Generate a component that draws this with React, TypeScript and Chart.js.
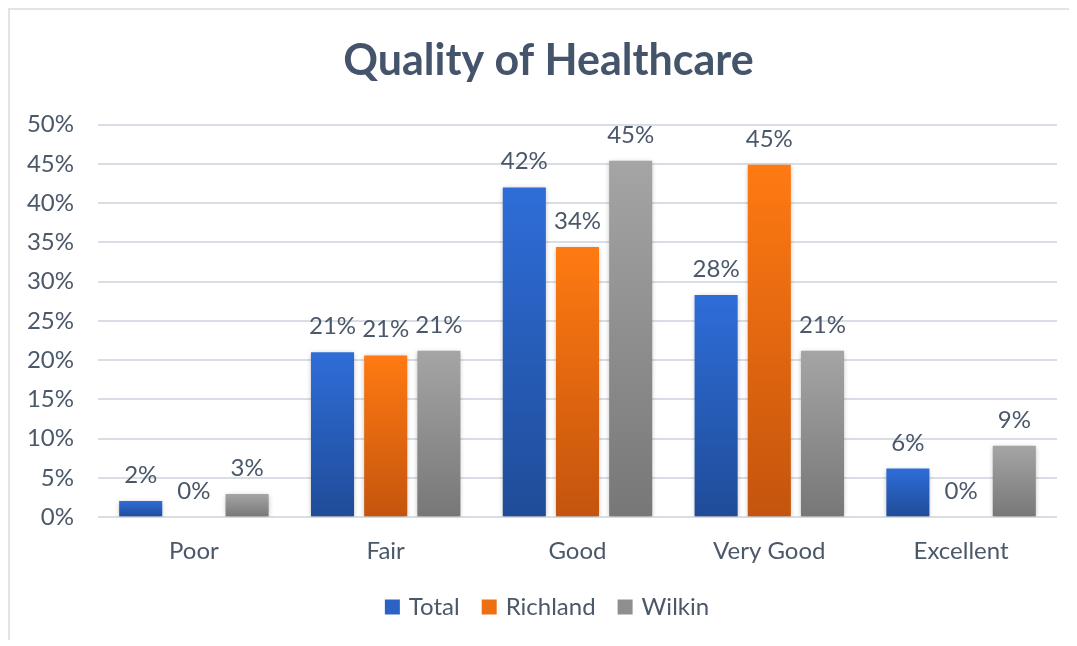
import React, { useEffect, useRef } from "react";
import { Chart, registerables } from "chart.js";

Chart.register(...registerables);

const categories = ["Poor", "Fair", "Good", "Very Good", "Excellent"];
const totalValues = [2.05, 21.0, 42.0, 28.3, 6.2];
const richlandValues = [0, 20.6, 34.4, 44.9, 0];
const wilkinValues = [2.95, 21.2, 45.4, 21.2, 9.1];
const seriesNames = ["Total", "Richland", "Wilkin"];
const yTicksMax = 50;
const yTickStep = 5;

const TEXT = "#4B586A";
const TITLE = "#44546A";
const FONT = "Lato, 'Open Sans', sans-serif";

const palettes = [
  { solid: "#2A62C6", top: "#2E6DD8", bottom: "#1F4C98" },
  { solid: "#EE6F10", top: "#FF7A12", bottom: "#C4540D" },
  { solid: "#8F8F8F", top: "#A5A5A5", bottom: "#777777" },
];

function gradientFor(idx: number) {
  return (ctx: any) => {
    const p = palettes[idx];
    const chart = ctx.chart;
    const area = chart.chartArea;
    if (!area || ctx.type !== "data" || !chart.scales.y) return p.solid;
    const y = chart.scales.y.getPixelForValue(ctx.raw);
    if (!(area.bottom - y > 0.5)) return p.solid;
    const g = chart.ctx.createLinearGradient(0, y, 0, area.bottom);
    g.addColorStop(0, p.top);
    g.addColorStop(1, p.bottom);
    return g;
  };
}

// Centre title and legend on the same line as in the reference
const shiftBlocks = {
  id: "shiftBlocks",
  afterLayout(chart: any) {
    const dx = 15;
    [chart.titleBlock, chart.legend].forEach((b: any) => {
      if (b) {
        b.left += dx;
        b.right += dx;
      }
    });
  },
};

const barShadowAndLabels = {
  id: "barShadowAndLabels",
  beforeDatasetsDraw(chart: any) {
    const c = chart.ctx;
    c.save();
    c.shadowColor = "rgba(0,0,0,0.28)";
    c.shadowBlur = 5;
    c.shadowOffsetX = 0;
    c.shadowOffsetY = 1;
  },
  afterDatasetsDraw(chart: any) {
    const c = chart.ctx;
    c.restore();
    c.save();
    c.font = `24px ${FONT}`;
    c.fillStyle = TEXT;
    c.textAlign = "center";
    c.textBaseline = "alphabetic";
    chart.data.datasets.forEach((ds: any, i: number) => {
      const meta = chart.getDatasetMeta(i);
      meta.data.forEach((el: any, j: number) => {
        const v = ds.data[j];
        c.fillText(`${Math.round(v)}%`, el.x, el.y - 18);
      });
    });
    c.restore();
  },
};

export default function App() {
  const canvasRef = useRef<HTMLCanvasElement | null>(null);

  useEffect(() => {
    const canvas = canvasRef.current;
    if (!canvas) return;
    const seriesValues = [totalValues, richlandValues, wilkinValues];
    const chart = new Chart(canvas, {
      type: "bar",
      data: {
        labels: categories,
        datasets: seriesNames.map((name, i) => ({
          label: name,
          data: seriesValues[i],
          backgroundColor: gradientFor(i),
          borderWidth: 0,
          barPercentage: 0.81,
          categoryPercentage: 0.832,
        })),
      },
      options: {
        animation: false,
        responsive: false,
        maintainAspectRatio: false,
        layout: { padding: { left: 0, right: 20, top: 0, bottom: 11 } },
        plugins: {
          title: {
            display: true,
            text: "Quality of Healthcare",
            color: TITLE,
            font: { family: FONT, size: 43, weight: "bold" },
            padding: { top: 25, bottom: 38 },
          },
          legend: {
            display: true,
            position: "bottom",
            labels: {
              color: TEXT,
              font: { family: FONT, size: 24 },
              usePointStyle: true,
              pointStyle: "rect",
              boxWidth: 9,
              boxHeight: 15,
              padding: 25,
              generateLabels: () =>
                seriesNames.map((name, i) => ({
                  text: name,
                  fillStyle: palettes[i].solid,
                  strokeStyle: palettes[i].solid,
                  lineWidth: 0,
                  pointStyle: "rect",
                  fontColor: TEXT,
                  hidden: false,
                  datasetIndex: i,
                })),
            },
          },
          tooltip: { enabled: false },
        },
        scales: {
          x: {
            grid: { display: false, drawTicks: false },
            border: { display: false },
            afterFit: (scale: any) => {
              scale.height = scale.height - 16;
            },
            ticks: {
              color: TEXT,
              font: { family: FONT, size: 24 },
              padding: 20,
            },
          },
          y: {
            min: 0,
            max: yTicksMax,
            grid: { color: "#D9DEE6", lineWidth: 2, drawTicks: false },
            border: { display: false },
            afterFit: (scale: any) => {
              scale.width = 88;
            },
            ticks: {
              stepSize: yTickStep,
              color: TEXT,
              font: { family: FONT, size: 24 },
              padding: 24,
              callback: (v: any) => `${v}%`,
            },
          },
        },
      },
      plugins: [shiftBlocks, barShadowAndLabels],
    });
    return () => chart.destroy();
  }, []);

  return (
    <div
      style={{
        borderTop: "2px solid #E1E5EB",
        borderLeft: "2px solid #E1E5EB",
        width: 1067,
        height: 630,
        overflow: "hidden",
      }}
    >
      <canvas ref={canvasRef} width={1067} height={630} style={{ display: "block" }} />
    </div>
  );
}
